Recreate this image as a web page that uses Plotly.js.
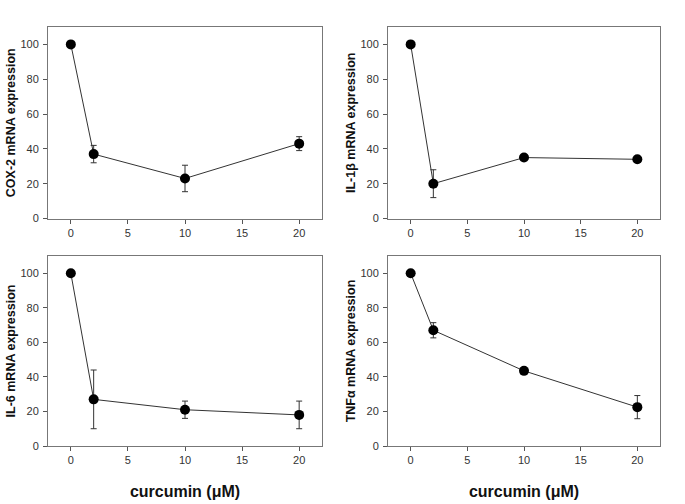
<!DOCTYPE html>
<html>
<head>
<meta charset="utf-8">
<script src="https://cdn.plot.ly/plotly-3.0.1.min.js"></script>
<style>html,body{margin:0;padding:0;background:#fff;}#chart{width:685px;height:504px;}</style>
</head>
<body>
<div id="chart"></div>
<script>
// curcumin concentration (µM)
const dose = [0, 2, 10, 20];

// COX-2 mRNA expression
const cox2 = [100, 37, 23, 43];
const cox2Err = [0, 5, 7.6, 4];

// IL-1β mRNA expression
const il1b = [100, 20, 35, 34];
const il1bErr = [0, 8, 0, 0];

// IL-6 mRNA expression
const il6 = [100, 27, 21, 18];
const il6Err = [0, 17, 5, 8];

// TNFα mRNA expression
const tnfa = [100, 67, 43.5, 22.5];
const tnfaErr = [0, 4.4, 0, 6.7];

const yTitles = ['COX-2 mRNA expression', 'IL-1β mRNA expression', 'IL-6 mRNA expression', 'TNFα mRNA expression'];
const xTitle = 'curcumin (μM)';
const xTicks = [0, 5, 10, 15, 20];
const yTicks = [0, 20, 40, 60, 80, 100];

const series = [[cox2, cox2Err], [il1b, il1bErr], [il6, il6Err], [tnfa, tnfaErr]];

const W = 685, H = 504;
const xDom = [[48 / W, 322 / W], [388 / W, 660 / W]];
const yDom = [[1 - 218.5 / H, 1 - 27 / H], [1 - 446 / H, 1 - 256 / H]];

const traces = series.map((s, i) => ({
  type: 'scatter',
  mode: 'lines+markers',
  x: dose,
  y: s[0],
  xaxis: i === 0 ? 'x' : 'x' + (i + 1),
  yaxis: i === 0 ? 'y' : 'y' + (i + 1),
  line: { color: '#333333', width: 1 },
  marker: { color: '#000000', size: 10 },
  error_y: { type: 'data', array: s[1], visible: true, color: '#333333', thickness: 1, width: 3 },
  showlegend: false,
  hoverinfo: 'x+y'
}));

const layout = {
  width: W, height: H,
  margin: { l: 0, r: 0, t: 0, b: 0 },
  paper_bgcolor: '#ffffff',
  plot_bgcolor: '#ffffff',
  font: { family: 'Liberation Sans, Arial, sans-serif', color: '#333333', size: 11 },
  showlegend: false
};

for (let i = 0; i < 4; i++) {
  const col = i % 2, row = Math.floor(i / 2);
  const xk = i === 0 ? 'xaxis' : 'xaxis' + (i + 1);
  const yk = i === 0 ? 'yaxis' : 'yaxis' + (i + 1);
  const yAnchor = i === 0 ? 'y' : 'y' + (i + 1);
  const xAnchor = i === 0 ? 'x' : 'x' + (i + 1);
  layout[xk] = {
    domain: xDom[col], anchor: yAnchor,
    range: [-2, 22], tickvals: xTicks, ticks: 'outside', ticklen: 4, tickcolor: '#555555',
    showgrid: false, zeroline: false, showline: true, mirror: true, linecolor: '#777777', linewidth: 1,
    tickfont: { size: 11, color: '#333333' },
    title: row === 1 ? { text: xTitle, font: { size: 16, color: '#111111', family: 'Liberation Sans, Arial, sans-serif', weight: 'bold' }, standoff: 20 } : { text: '' }
  };
  layout[yk] = {
    domain: yDom[row], anchor: xAnchor,
    range: [0, 110], tickvals: yTicks, ticks: 'outside', ticklen: 4, tickcolor: '#555555',
    ticklabelstandoff: 2,
    showgrid: false, zeroline: false, showline: true, mirror: true, linecolor: '#777777', linewidth: 1,
    tickfont: { size: 11, color: '#333333' },
    title: { text: yTitles[i], font: { size: 12.5, color: '#111111', family: 'Liberation Sans, Arial, sans-serif', weight: 'bold' }, standoff: 2 }
  };
}

Plotly.newPlot('chart', traces, layout, { displayModeBar: false });
</script>
</body>
</html>
